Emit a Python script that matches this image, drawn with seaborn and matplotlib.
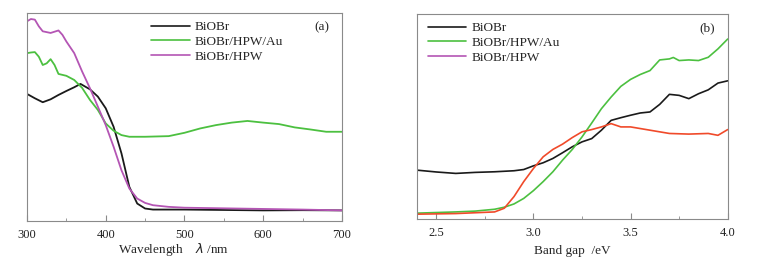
import numpy as np
import pandas as pd
import matplotlib
matplotlib.use("Agg")
import matplotlib.pyplot as plt
from matplotlib.ticker import MultipleLocator
import seaborn as sns

# ---- panel (a): absorbance vs wavelength (normalised) ----
wl_biobr = [300, 310, 320, 330, 340, 350, 360, 368, 380, 390, 400, 410, 420, 430,
            440, 450, 460, 500, 550, 600, 650, 700]
abs_biobr = [0.611, 0.590, 0.571, 0.585, 0.606, 0.625, 0.643, 0.659, 0.633, 0.598,
             0.542, 0.453, 0.325, 0.164, 0.084, 0.060, 0.055, 0.055, 0.053, 0.051,
             0.052, 0.051]

wl_au = [300, 305, 310, 315, 320, 325, 330, 335, 340, 350, 360, 370, 380, 390, 400,
         410, 420, 430, 450, 480, 500, 520, 540, 560, 580, 600, 620, 640, 660, 680, 700]
abs_au = [0.807, 0.810, 0.812, 0.790, 0.750, 0.758, 0.778, 0.750, 0.707, 0.698,
          0.678, 0.640, 0.582, 0.534, 0.469, 0.434, 0.413, 0.405, 0.405, 0.408,
          0.424, 0.445, 0.461, 0.473, 0.481, 0.473, 0.466, 0.450, 0.440, 0.429, 0.429]

wl_hpw = [300, 305, 310, 315, 320, 330, 340, 345, 350, 360, 370, 380, 390, 400, 410,
          420, 430, 440, 450, 460, 480, 500, 550, 600, 650, 700]
abs_hpw = [0.960, 0.971, 0.968, 0.936, 0.912, 0.904, 0.916, 0.895, 0.863, 0.807,
           0.719, 0.638, 0.550, 0.461, 0.357, 0.244, 0.156, 0.108, 0.087, 0.076,
           0.068, 0.064, 0.061, 0.058, 0.055, 0.051]

# ---- panel (b): Tauc plot vs band gap ----
eg_biobr = [2.4, 2.5, 2.6, 2.7, 2.8, 2.9, 2.95, 3.0, 3.05, 3.1, 3.15, 3.2, 3.25, 3.3,
            3.35, 3.4, 3.45, 3.5, 3.55, 3.6, 3.65, 3.7, 3.75, 3.8, 3.85, 3.9, 3.95, 4.0]
tauc_biobr = [0.238, 0.229, 0.222, 0.227, 0.230, 0.235, 0.241, 0.259, 0.274, 0.295,
              0.323, 0.352, 0.376, 0.392, 0.433, 0.481, 0.494, 0.506, 0.517, 0.522,
              0.559, 0.608, 0.603, 0.587, 0.611, 0.630, 0.663, 0.674]

eg_au = [2.4, 2.6, 2.7, 2.8, 2.85, 2.9, 2.95, 3.0, 3.05, 3.1, 3.15, 3.2, 3.25, 3.3,
         3.35, 3.4, 3.45, 3.5, 3.55, 3.6, 3.65, 3.7, 3.72, 3.75, 3.8, 3.85, 3.9, 3.95, 4.0]
tauc_au = [0.028, 0.034, 0.038, 0.047, 0.057, 0.073, 0.100, 0.138, 0.182, 0.230,
           0.287, 0.339, 0.400, 0.468, 0.538, 0.595, 0.647, 0.681, 0.705, 0.724,
           0.776, 0.781, 0.788, 0.773, 0.776, 0.773, 0.789, 0.830, 0.878]

eg_hpw = [2.4, 2.6, 2.8, 2.85, 2.9, 2.95, 3.0, 3.05, 3.1, 3.15, 3.2, 3.25, 3.3, 3.35,
          3.4, 3.45, 3.5, 3.55, 3.6, 3.7, 3.8, 3.9, 3.95, 4.0]
tauc_hpw = [0.023, 0.026, 0.034, 0.052, 0.109, 0.182, 0.246, 0.303, 0.339, 0.365,
            0.397, 0.425, 0.436, 0.449, 0.465, 0.449, 0.449, 0.441, 0.433, 0.417,
            0.414, 0.417, 0.408, 0.436]

labels = ["BiOBr", "BiOBr/HPW/Au", "BiOBr/HPW"]

sns.set_style("white")
plt.rcParams["font.family"] = ["Liberation Serif", "DejaVu Serif"]

black = "#1a1a1a"
green = "#4cc040"
magenta = "#b455b4"
red = "#f04a2a"

df_a = pd.concat([
    pd.DataFrame({"x": wl_biobr, "y": abs_biobr, "s": labels[0]}),
    pd.DataFrame({"x": wl_au, "y": abs_au, "s": labels[1]}),
    pd.DataFrame({"x": wl_hpw, "y": abs_hpw, "s": labels[2]}),
])
df_b = pd.concat([
    pd.DataFrame({"x": eg_biobr, "y": tauc_biobr, "s": labels[0]}),
    pd.DataFrame({"x": eg_au, "y": tauc_au, "s": labels[1]}),
    pd.DataFrame({"x": eg_hpw, "y": tauc_hpw, "s": labels[2]}),
])

fig = plt.figure(figsize=(7.58, 2.65), dpi=100)
ax1 = fig.add_axes([0.0356, 0.166, 0.4155, 0.785])
ax2 = fig.add_axes([0.550, 0.174, 0.410, 0.773])

sns.lineplot(data=df_a, x="x", y="y", hue="s", sort=False, ax=ax1, lw=1.3,
             palette={labels[0]: black, labels[1]: green, labels[2]: magenta})
sns.lineplot(data=df_b, x="x", y="y", hue="s", sort=False, ax=ax2, lw=1.2,
             palette={labels[0]: black, labels[1]: green, labels[2]: red})

ax1.set_xlim(300, 700)
ax2.set_xlim(2.4, 4.0)
ax1.set_ylim(0, 1)
ax2.set_ylim(0, 1)
ax1.xaxis.set_major_locator(MultipleLocator(100))
ax1.xaxis.set_minor_locator(MultipleLocator(50))
ax2.xaxis.set_major_locator(MultipleLocator(0.5))
ax2.xaxis.set_minor_locator(MultipleLocator(0.25))
ax2.xaxis.set_major_formatter(matplotlib.ticker.FormatStrFormatter("%.1f"))

ax1.set_xlabel("Wavelength    $\\lambda$ /nm", fontsize=9.5, labelpad=0)
ax1.xaxis.set_label_coords(0.465, -0.098, transform=ax1.transAxes)
ax1.xaxis.label.set_va("top")
ax2.set_xlabel("Band gap  /eV", fontsize=9.5, labelpad=4)

for ax, tag, loc in [(ax1, "(a)", 0.37), (ax2, "(b)", 0.01)]:
    ax.set_ylabel("")
    ax.set_yticks([])
    for sp in ax.spines.values():
        sp.set_color("#8a8a8a")
        sp.set_linewidth(0.8)
    ax.tick_params(axis="x", which="both", direction="in", bottom=True, top=False,
                   labelsize=9, colors="#8a8a8a", labelcolor="#222222", pad=6)
    ax.tick_params(axis="x", which="major", length=4)
    ax.tick_params(axis="x", which="minor", length=2.5)
    ax.text(0.935, 0.93, tag, transform=ax.transAxes, fontsize=9.5, ha="center", va="center")
    # legend always shows the three samples with the panel-(a) colours
    handles = [plt.Line2D([], [], color=c, lw=1.2) for c in (black, green, magenta)]
    ax.legend(handles, labels, loc="upper left", bbox_to_anchor=(loc, 1.0),
              frameon=False, fontsize=9.5, handlelength=2.9, handletextpad=0.4,
              labelspacing=0.2, borderaxespad=0.2)

fig.savefig("out.png", dpi=100)
